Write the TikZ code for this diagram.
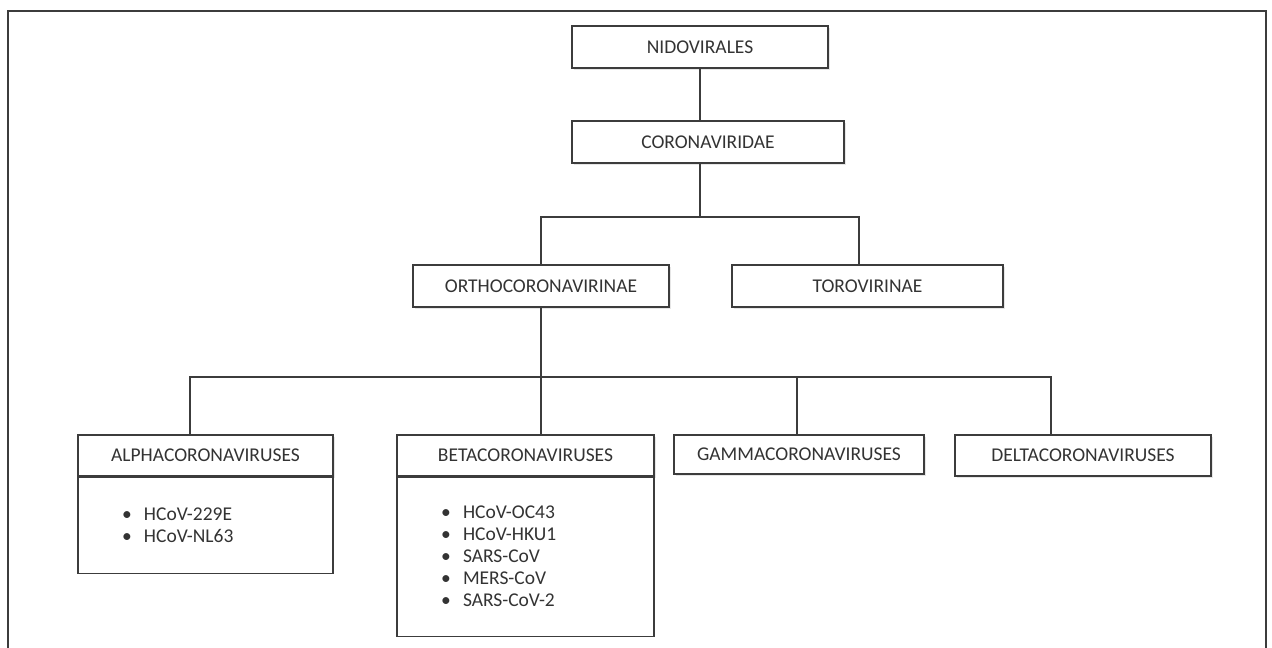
\documentclass[tikz,border=0pt]{standalone}
\usepackage{fontspec}
\setmainfont{Carlito}
\usetikzlibrary{shadows}
\definecolor{boxline}{HTML}{3C3C3C}
\definecolor{boxtext}{HTML}{333333}

\begin{document}
\begin{tikzpicture}[x=1pt,y=-1pt,
	tax_node/.style={rectangle,draw=boxline,line width=1.2pt,fill=white,text=boxtext,minimum height=42pt,inner sep=0pt,font=\fontsize{19.5}{22}\selectfont,drop shadow={shadow xshift=2pt,shadow yshift=-2pt,opacity=0.2}},
	list_node/.style={rectangle,draw=boxline,line width=1.2pt,fill=white,text=boxtext,anchor=north,align=left,inner xsep=44pt,inner ysep=0pt,font=\fontsize{19.5}{22}\selectfont},
	link/.style={draw=boxline,line width=1.1pt}]

		\useasboundingbox (0,0) rectangle (1272,648);
		\draw[boxline,line width=1.2pt] (8,648) -- (8,11) -- (1266,11) -- (1266,648);

		\node[tax_node,minimum width=256pt] (nido) at (700,47) {NIDOVIRALES};
		\node[tax_node,minimum width=272pt] (corona) at (708,142) {CORONAVIRIDAE};
		\node[tax_node,minimum width=256pt] (ortho) at (541,286) {ORTHOCORONAVIRINAE};
		\node[tax_node,minimum width=271pt] (toro) at (867.5,286) {TOROVIRINAE};
		\node[tax_node,minimum width=255pt,minimum height=41pt] (alpha) at (205.5,455.5) {ALPHACORONAVIRUSES};
		\node[tax_node,minimum width=257pt,minimum height=41pt] (beta) at (525.5,455.5) {BETACORONAVIRUSES};
		\node[tax_node,minimum width=250pt,minimum height=39pt] (gamma) at (799,454.5) {GAMMACORONAVIRUSES};
		\node[tax_node,minimum width=256pt,minimum height=41pt] (delta) at (1083,455.5) {DELTACORONAVIRUSES};

		\node[list_node,text width=167pt,minimum height=96pt] (alphalist) at (alpha.south) {\makebox[22pt][l]{\textbullet}HCoV-229E\\ \makebox[22pt][l]{\textbullet}HCoV-NL63};
		\node[list_node,text width=169pt,minimum height=159pt] (betalist) at (beta.south) {\makebox[22pt][l]{\textbullet}HCoV-OC43\\ \makebox[22pt][l]{\textbullet}HCoV-HKU1\\ \makebox[22pt][l]{\textbullet}SARS-CoV\\ \makebox[22pt][l]{\textbullet}MERS-CoV\\ \makebox[22pt][l]{\textbullet}SARS-CoV-2};

		\coordinate (tj) at (859,217);
		\coordinate (ja) at (190,377);
		\coordinate (jg) at (797,377);
		\coordinate (jd) at (1051,377);

		\draw[link] (nido.south) -- (nido.south |- corona.north);
		\draw[link] (nido.south |- corona.south) -- (nido.south |- tj);
		\draw[link] (ortho.north) |- (tj) -- (tj |- toro.north);
		\draw[link] (ortho.south) -- (ortho.south |- beta.north);
		\draw[link] (ja |- alpha.north) -- (ja) -- (jd) -- (jd |- delta.north);
		\draw[link] (jg) -- (jg |- gamma.north);
		\end{tikzpicture}
\end{document}
